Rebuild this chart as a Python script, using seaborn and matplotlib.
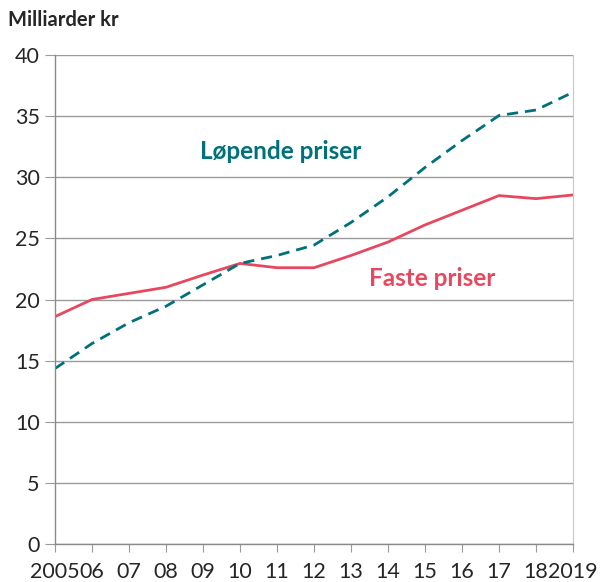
import matplotlib
matplotlib.use("Agg")
import matplotlib.pyplot as plt
import seaborn as sns
import pandas as pd

years = list(range(2005, 2020))
faste = [18.6, 20.0, 20.5, 21.0, 22.0, 22.95, 22.6, 22.6, 23.6, 24.7, 26.1, 27.3, 28.5, 28.25, 28.55]
lopende = [14.35, 16.4, 18.1, 19.45, 21.2, 22.95, 23.6, 24.45, 26.3, 28.4, 30.8, 33.0, 35.05, 35.5, 36.95]
xlabels = ["2005", "06", "07", "08", "09", "10", "11", "12", "13", "14", "15", "16", "17", "18", "2019"]

TEAL = "#00717a"
RED = "#e8485f"

sns.set_style("white")
plt.rcParams['font.family'] = ['Lato', 'DejaVu Sans']

fig = plt.figure(figsize=(6.0, 5.82), dpi=100)
ax = fig.add_axes([55/600, 38/582, 518/600, 489/582])

df = pd.DataFrame({"year": years, "faste": faste, "lopende": lopende})
sns.lineplot(data=df, x="year", y="faste", ax=ax, color=RED, linewidth=2.0)
sns.lineplot(data=df, x="year", y="lopende", ax=ax, color=TEAL, linewidth=2.0, dashes=False)
ax.lines[-1].set_linestyle((0, (4, 2.5)))

ax.set_xlim(2005, 2019)
ax.set_ylim(0, 40)
ax.set_yticks(range(0, 41, 5))
ax.set_xticks(years)
ax.set_xticklabels(xlabels)
ax.set_xlabel("")
ax.set_ylabel("")
ax.grid(axis="y", color="#9a9a9a", linewidth=1.0)
ax.set_axisbelow(True)
for s in ["left", "bottom"]:
    ax.spines[s].set_color("#8a8a8a")
    ax.spines[s].set_linewidth(1.0)
ax.spines["right"].set_color("#c8c8c8")
ax.spines["top"].set_visible(False)
ax.tick_params(axis="y", length=7, color="#9a9a9a", labelsize=15.5, pad=4, direction="out", left=True)
ax.tick_params(axis="x", length=6, color="#9a9a9a", labelsize=15.5, pad=7, direction="out", bottom=True)

fig.text(8/600, 1 - 20/582, "Milliarder kr", fontsize=14.5, fontweight="bold", va="center", ha="left")
ax.text(2011.1, 32.1, "Løpende priser", color=TEAL, fontsize=17.5, fontweight="bold", ha="center", va="center")
ax.text(2015.2, 21.7, "Faste priser", color=RED, fontsize=17.5, fontweight="bold", ha="center", va="center")

fig.savefig("out.png", dpi=100)
